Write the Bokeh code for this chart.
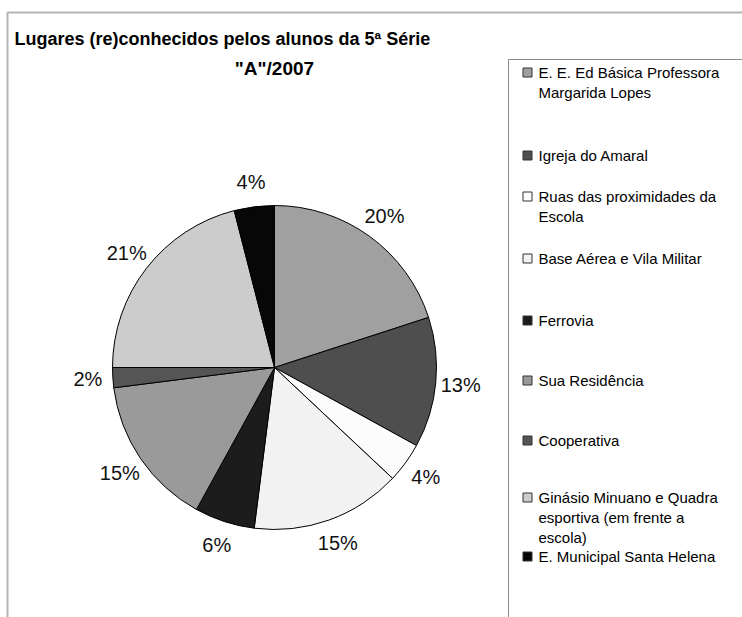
import math
from bokeh.plotting import figure
from bokeh.models import Range1d, ColumnDataSource
from bokeh.core.properties import value
from bokeh.embed import file_html
from bokeh.resources import INLINE

# ---- data ----
categories = [
    "E. E. Ed Básica Professora\nMargarida Lopes",
    "Igreja do Amaral",
    "Ruas das proximidades da\nEscola",
    "Base Aérea e Vila Militar",
    "Ferrovia",
    "Sua Residência",
    "Cooperativa",
    "Ginásio Minuano e Quadra\nesportiva (em frente a\nescola)",
    "E. Municipal Santa Helena",
]
shares = [20, 13, 4, 15, 6, 15, 2, 21, 4]
colors = ["#a0a0a0", "#4e4e4e", "#fcfcfc", "#f2f2f2", "#1c1c1c",
          "#9a9a9a", "#555555", "#cccccc", "#070707"]
title_lines = ["Lugares (re)conhecidos pelos alunos da 5ª Série", "\"A\"/2007"]

# ---- layout ----
W, H = 742, 617
FONT = "Liberation Sans"
def Y(ypx):
    return H - ypx

cx, cy, R = 274, Y(367), 162
label_r = 187
legend_first_y = [72, 155, 196, 258, 320, 380, 440, 497, 556]
line_h = 20

p = figure(width=W, height=H, x_range=Range1d(0, W), y_range=Range1d(0, H),
           output_backend="svg", toolbar_location=None, min_border=0)
p.axis.visible = False
p.grid.visible = False
p.outline_line_color = None
p.background_fill_color = "white"
p.border_fill_color = "white"

# outer chart frame
p.line(x=[7, 7, W + 5], y=[Y(H + 5), Y(12), Y(12)], line_color="#b4b4b4", line_width=2)

# pie slices
total = sum(shares)
starts, ends, mids = [], [], []
cum = 0
for s in shares:
    a0 = math.pi / 2 - 2 * math.pi * cum / total
    a1 = math.pi / 2 - 2 * math.pi * (cum + s) / total
    starts.append(a0)
    ends.append(a1)
    mids.append((a0 + a1) / 2)
    cum += s

src = ColumnDataSource(dict(start=starts, end=ends, color=colors,
                            x=[cx] * len(shares), y=[cy] * len(shares)))
p.wedge(x="x", y="y", radius=R, start_angle="start", end_angle="end",
        direction="clock", fill_color="color", line_color="black", line_width=1,
        source=src)

# percentage labels
lab = ColumnDataSource(dict(
    x=[cx + label_r * math.cos(m) for m in mids],
    y=[cy + label_r * math.sin(m) for m in mids],
    t=[f"{s}%" for s in shares]))
p.text(x="x", y="y", text="t", source=lab, text_align="center",
       text_baseline="middle", text_font=value(FONT), text_font_size="20px",
       text_color="#111111")

# title
p.text(x=[14], y=[Y(38)], text=[title_lines[0]], text_align="left",
       text_baseline="middle", text_font=value(FONT), text_font_size="18px",
       text_font_style="bold", text_color="black")
p.text(x=[274], y=[Y(68)], text=[title_lines[1]], text_align="center",
       text_baseline="middle", text_font=value(FONT), text_font_size="19px",
       text_font_style="bold", text_color="black")

# legend box
p.line(x=[508, 508, W + 5], y=[Y(H + 5), Y(59), Y(59)], line_color="#8c8c8c", line_width=1)

# legend entries
sw_x, sw_y, tx, ty, tt = [], [], [], [], []
for cat, y0 in zip(categories, legend_first_y):
    sw_x.append(527)
    sw_y.append(Y(y0))
    for k, line in enumerate(cat.split("\n")):
        tx.append(538)
        ty.append(Y(y0 + k * line_h))
        tt.append(line)
p.rect(x=sw_x, y=sw_y, width=9, height=9, fill_color=colors, line_color="#333333", line_width=1)
p.text(x=tx, y=ty, text=tt, text_align="left", text_baseline="middle",
       text_font=value(FONT), text_font_size="15px", text_color="black")

open("out.html", "w").write(file_html(p, INLINE))
